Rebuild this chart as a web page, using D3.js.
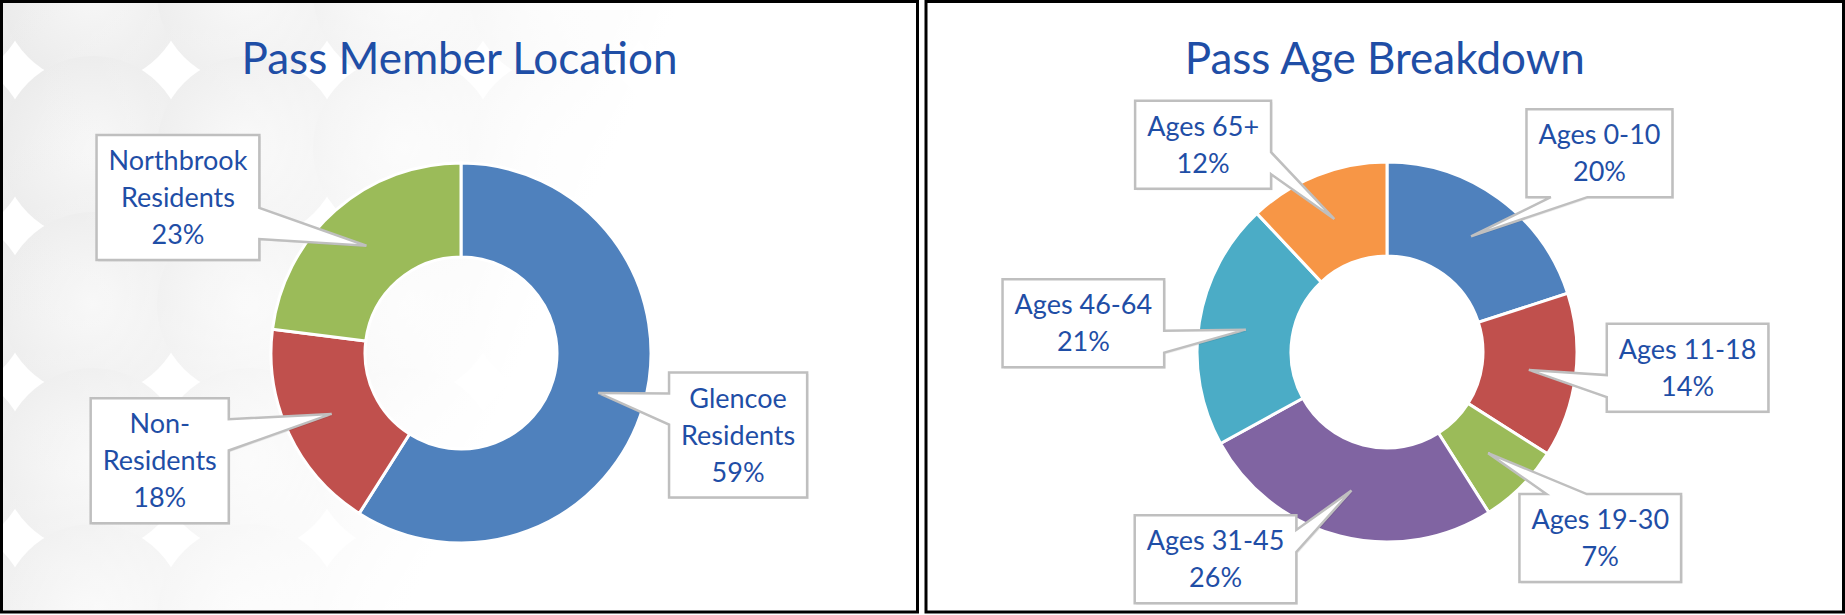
<!DOCTYPE html>
<html>
<head>
<meta charset="utf-8">
<script src="https://cdn.jsdelivr.net/npm/d3@7"></script>
<style>
  body { margin: 0; background: #fff; }
  svg { display: block; font-family: Lato, 'Open Sans', sans-serif; }
</style>
</head>
<body>
<svg id="chart"></svg>
<script>
// Pass Member Location
const locationCategories = ['Glencoe Residents', 'Non-Residents', 'Northbrook Residents'];
const locationLabelLines = [['Glencoe', 'Residents'], ['Non-', 'Residents'], ['Northbrook', 'Residents']];
const locationValues = [59, 18, 23];
const locationColors = ['#4F81BD', '#C0504D', '#9BBB59'];

// Pass Age Breakdown
const ageCategories = ['Ages 0-10', 'Ages 11-18', 'Ages 19-30', 'Ages 31-45', 'Ages 46-64', 'Ages 65+'];
const ageValues = [20, 14, 7, 26, 21, 12];
const ageColors = ['#4F81BD', '#C0504D', '#9BBB59', '#8064A2', '#4BACC6', '#F79646'];

// where Excel left each callout: [turn from slice middle (deg), distance from centre]
const locationCallouts = [[0.3, 289], [5.5, 320], [-19.8, 323]];
const ageCallouts = [[10.9, 291], [-4.2, 301], [-3.9, 283], [25.2, 269], [-3.6, 305], [-20, 277]];

const W = 1845, H = 615;
const textColor = '#1F4EA6';

const svg = d3.select('#chart').attr('width', W).attr('height', H);
const defs = svg.append('defs');

// Set up the two panels
const panels = [
  { x: 1.5, w: 916, title: 'Pass Member Location', cx: 461, cy: 353,
    labels: locationLabelLines, values: locationValues, colors: locationColors, callouts: locationCallouts },
  { x: 926, w: 917.5, title: 'Pass Age Breakdown', cx: 1387, cy: 352,
    labels: ageCategories.map(c => [c]), values: ageValues, colors: ageColors, callouts: ageCallouts }
];

// Soft circle background for the left panel
defs.append('clipPath').attr('id', 'leftClip')
  .append('rect').attr('x', 3).attr('y', 3).attr('width', 913).attr('height', 608);
const fade = defs.append('linearGradient').attr('id', 'fade')
  .attr('x1', 0).attr('x2', 1).attr('y1', 0).attr('y2', 0.3);
fade.append('stop').attr('offset', '0%').attr('stop-color', '#fff').attr('stop-opacity', 0);
fade.append('stop').attr('offset', '25%').attr('stop-color', '#fff').attr('stop-opacity', 0.25);
fade.append('stop').attr('offset', '68%').attr('stop-color', '#fff').attr('stop-opacity', 1);
const bubble = defs.append('radialGradient').attr('id', 'bubble');
bubble.append('stop').attr('offset', '0%').attr('stop-color', '#f6f6f6');
bubble.append('stop').attr('offset', '100%').attr('stop-color', '#ebebeb');

const bg = svg.append('g').attr('clip-path', 'url(#leftClip)');
bg.append('rect').attr('x', 0).attr('y', 0).attr('width', 920).attr('height', H).attr('fill', '#fff');
const gridX = d3.range(-63, 920, 156), gridY = d3.range(-8, 700, 156);
bg.selectAll('circle')
  .data(d3.cross(gridX, gridY))
  .enter()
  .append('circle')
  .attr('cx', d => d[0])
  .attr('cy', d => d[1])
  .attr('r', 92)
  .attr('fill', 'url(#bubble)');
bg.append('rect').attr('x', 0).attr('y', 0).attr('width', 920).attr('height', H).attr('fill', 'url(#fade)');

// wedgeRectCallout, the way Office draws it
function calloutPath(l, t, w, h, tx, ty) {
  const r = l + w, b = t + h, hc = l + w / 2, vc = t + h / 2;
  const dx = tx - hc, dy = ty - vc, dq = dx * h / w;
  const x1 = l + w * (dx > 0 ? 7 : 2) / 12, x2 = l + w * (dx > 0 ? 10 : 5) / 12;
  const y1 = t + h * (dy > 0 ? 7 : 2) / 12, y2 = t + h * (dy > 0 ? 10 : 5) / 12;
  const side = Math.abs(dy) > Math.abs(dq) ? (dy < 0 ? 'top' : 'bottom') : (dx < 0 ? 'left' : 'right');
  const p = d3.path();
  p.moveTo(l, t);
  if (side === 'top') { p.lineTo(x1, t); p.lineTo(tx, ty); p.lineTo(x2, t); }
  p.lineTo(r, t);
  if (side === 'right') { p.lineTo(r, y1); p.lineTo(tx, ty); p.lineTo(r, y2); }
  p.lineTo(r, b);
  if (side === 'bottom') { p.lineTo(x2, b); p.lineTo(tx, ty); p.lineTo(x1, b); }
  p.lineTo(l, b);
  if (side === 'left') { p.lineTo(l, y2); p.lineTo(tx, ty); p.lineTo(l, y1); }
  p.closePath();
  return p.toString();
}

const outerR = 190, innerR = 96, lineH = 37;

panels.forEach(panel => {
  // Title
  svg.append('text')
    .attr('x', panel.x + panel.w / 2)
    .attr('y', 74)
    .attr('text-anchor', 'middle')
    .style('font-size', '44px')
    .style('fill', textColor)
    .text(panel.title);

  const g = svg.append('g').attr('transform', `translate(${panel.cx},${panel.cy})`);

  const pie = d3.pie().sort(null).value(d => d)(panel.values);
  const arc = d3.arc().innerRadius(innerR).outerRadius(outerR);

  // Add slices
  g.selectAll('path.slice')
    .data(pie)
    .enter()
    .append('path')
    .attr('class', 'slice')
    .attr('d', arc)
    .attr('fill', (d, i) => panel.colors[i])
    .attr('stroke', '#fff')
    .attr('stroke-width', 3)
    .attr('stroke-linejoin', 'miter');

  // Callouts
  pie.forEach((d, i) => {
    const lines = panel.labels[i].concat([d.value + '%']);
    const lab = g.append('g');
    const texts = lab.selectAll('text')
      .data(lines)
      .enter()
      .append('text')
      .attr('text-anchor', 'middle')
      .style('font-size', '27px')
      .style('fill', textColor)
      .text(s => s);
    const maxW = d3.max(texts.nodes(), n => n.getComputedTextLength());
    const bw = maxW + 24, bh = lines.length * lineH + 14;

    const [turn, dist] = panel.callouts[i];
    const a = (d.startAngle + d.endAngle) / 2 + turn * Math.PI / 180;
    const bx = dist * Math.sin(a), by = -dist * Math.cos(a);
    const [tx, ty] = arc.centroid(d);

    lab.insert('path', 'text')
      .attr('d', calloutPath(bx - bw / 2 + 1.5, by - bh / 2 + 1.5, bw, bh, tx + 1.5, ty + 1.5))
      .attr('fill', 'rgba(0,0,0,0.08)');
    lab.insert('path', 'text')
      .attr('d', calloutPath(bx - bw / 2, by - bh / 2, bw, bh, tx, ty))
      .attr('fill', '#fff')
      .attr('stroke', '#BFBFBF')
      .attr('stroke-width', 2.5)
      .attr('stroke-linejoin', 'miter');

    texts
      .attr('x', bx)
      .attr('y', (s, k) => by + (k - (lines.length - 1) / 2) * lineH + 9.5);
  });

  // Panel border
  svg.append('rect')
    .attr('x', panel.x)
    .attr('y', 1.5)
    .attr('width', panel.w)
    .attr('height', 610.5)
    .attr('fill', 'none')
    .attr('stroke', '#000')
    .attr('stroke-width', 3);
});
</script>
</body>
</html>
